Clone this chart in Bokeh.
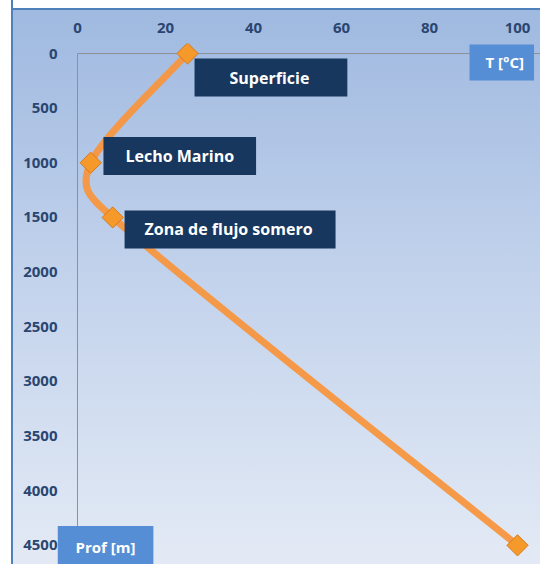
import math
from bokeh.plotting import figure
from bokeh.models import Range1d, FixedTicker, Label, ColumnDataSource
from bokeh.embed import file_html
from bokeh.resources import INLINE

# ---- data ----
temp_c = [25, 3, 8, 100]
depth_m = [0, 1000, 1500, 4500]
point_names = ["Superficie", "Lecho Marino", "Zona de flujo somero"]
x_ticks = [0, 20, 40, 60, 80, 100]
y_ticks = [0, 500, 1000, 1500, 2000, 2500, 3000, 3500, 4000, 4500]
x_title = "T [°C]"
y_title = "Prof [m]"

W, H = 540, 564
LEFT, TOP = 57, 43
PX_X, PX_Y = 4.4, 0.1093          # pixels per data unit
X_START = -(77 - LEFT) / PX_X
X_END = X_START + (W - LEFT) / PX_X
Y_START = -(53 - TOP) / PX_Y
Y_END = Y_START + (H - TOP) / PX_Y

bg = ("linear-gradient(to right, #ffffff 0px, #ffffff 11px, #4f81bd 11px, #4f81bd 13px, rgba(0,0,0,0) 13px, rgba(0,0,0,0) 100%), "
      "linear-gradient(to bottom, #ffffff 0px, #ffffff 8px, #4f81bd 8px, #4f81bd 10px, #9fb9e0 10px, #c3d3ec 50%, #e3eaf5 100%)")

p = figure(width=W, height=H, output_backend="svg", toolbar_location=None,
           x_range=Range1d(X_START, X_END), y_range=Range1d(Y_END, Y_START),
           x_axis_location="above",
           min_border_left=LEFT, min_border_top=TOP, min_border_right=0, min_border_bottom=0,
           styles={"background": bg, "background-repeat": "no-repeat"})
p.title.visible = False
p.border_fill_color = None
p.background_fill_color = None
p.outline_line_color = None
p.grid.visible = False

for ax, ticks, standoff in ((p.xaxis, x_ticks, 11), (p.yaxis, y_ticks, 0)):
    ax.ticker = FixedTicker(ticks=ticks)
    ax.major_tick_out = 0
    ax.major_tick_in = 0
    ax.minor_tick_out = 0
    ax.minor_tick_in = 0
    ax.axis_line_color = None
    ax.major_label_text_font = "Open Sans"
    ax.major_label_text_font_style = "bold"
    ax.major_label_text_font_size = "15px"
    ax.major_label_text_color = "#2a4670"
    ax.major_label_standoff = standoff

# visible axis lines, starting at the origin (0, 0)
p.ray(x=[0, 0], y=[0, 0], length=0, angle=[0, -math.pi / 2],
      line_color="#8c9099", line_width=1)

# ---- smoothed line (Excel-like Bezier through the data points) ----
sx, sy = PX_X, PX_Y
pts = [(t * sx, d * sy) for t, d in zip(temp_c, depth_m)]
n = len(pts)

def tangent(i):
    a = pts[max(i - 1, 0)]
    b = pts[min(i + 1, n - 1)]
    return ((b[0] - a[0]) / 6.0, (b[1] - a[1]) / 6.0)

def clamp(v, lim):
    ln = math.hypot(*v)
    if ln > lim and ln > 0:
        return (v[0] * lim / ln, v[1] * lim / ln)
    return v

x0s, y0s, x1s, y1s, cx0, cy0, cx1, cy1 = ([] for _ in range(8))
for i in range(n - 1):
    a, b = pts[i], pts[i + 1]
    seg = math.hypot(b[0] - a[0], b[1] - a[1])
    ta = clamp(tangent(i), seg / 2)
    tb = clamp(tangent(i + 1), seg / 2)
    x0s.append(temp_c[i]); y0s.append(depth_m[i])
    x1s.append(temp_c[i + 1]); y1s.append(depth_m[i + 1])
    cx0.append((a[0] + ta[0]) / sx); cy0.append((a[1] + ta[1]) / sy)
    cx1.append((b[0] - tb[0]) / sx); cy1.append((b[1] - tb[1]) / sy)

bsrc = ColumnDataSource(dict(x0=x0s, y0=y0s, x1=x1s, y1=y1s, cx0=cx0, cy0=cy0, cx1=cx1, cy1=cy1))
p.bezier(x0="x0", y0="y0", x1="x1", y1="y1", cx0="cx0", cy0="cy0", cx1="cx1", cy1="cy1",
         source=bsrc, line_color="#f7963f", line_width=7, line_alpha=0.95)

p.scatter(temp_c, depth_m, marker="square", angle=math.pi / 4, size=15,
          fill_color="#f59a2a", line_color="#d47a1c", line_width=1)

# ---- annotation boxes (x = left edge of box, y = vertical centre of text) ----
def box(x, y, text, bgc, size, pad):
    p.add_layout(Label(x=x, y=y, text=text, text_align="left", text_baseline="middle",
                       text_font="Open Sans", text_font_style="bold", text_font_size=size,
                       text_color="#ffffff", background_fill_color=bgc,
                       padding=pad))

box(26.6, 220, point_names[0], "#17375e", "16px", dict(left=35, right=38, top=8, bottom=8))
box(5.9, 938, point_names[1], "#17375e", "16px", dict(left=22, right=22, top=8, bottom=8))
box(10.7, 1610, point_names[2], "#17375e", "16px", dict(left=20, right=23, top=8, bottom=8))
box(89.1, 82, x_title, "#558ed5", "15px", dict(left=16, right=10, top=8, bottom=8))
box(X_START, 4520, y_title, "#558ed5", "15px", dict(left=18, right=18, top=11, bottom=12))

open("out.html", "w").write(file_html(p, INLINE))
